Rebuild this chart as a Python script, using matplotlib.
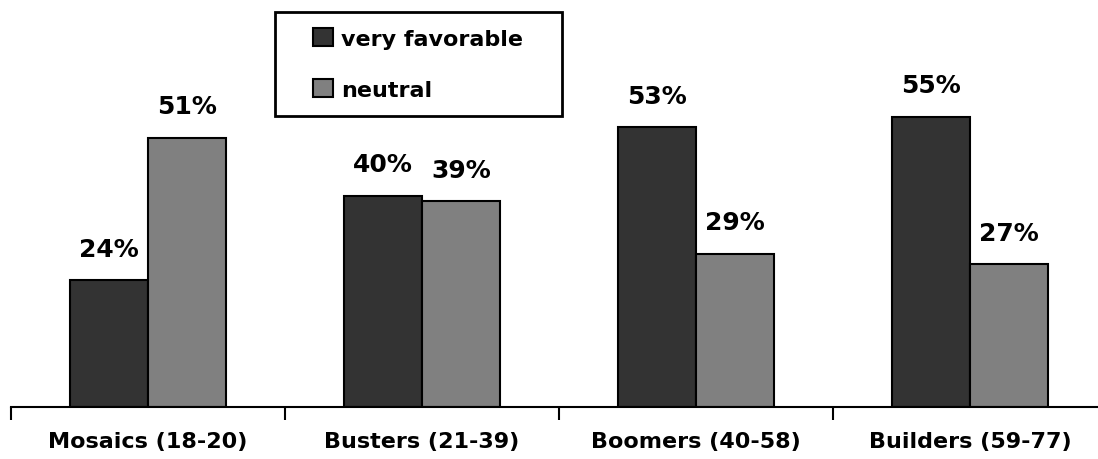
import matplotlib
matplotlib.use("Agg")
import matplotlib.pyplot as plt
import numpy as np
from matplotlib.patches import Patch, Rectangle

categories = ["Mosaics (18-20)", "Busters (21-39)", "Boomers (40-58)", "Builders (59-77)"]
series_names = ["very favorable", "neutral"]
very_favorable = [24, 40, 53, 55]
neutral = [51, 39, 29, 27]
colors = ["#333333", "#808080"]

plt.rcParams['font.family'] = ['DejaVu Sans']
W, H = 1098, 460
fig = plt.figure(figsize=(W / 100, H / 100), dpi=100)
left = 11 / W
width = 4 * 274 / W
bottom = (H - 408) / H
ax = fig.add_axes([left, bottom, width, 1 - bottom])

x = np.arange(len(categories))
bw = 78 / 274
for i, (vals, c) in enumerate(zip([very_favorable, neutral], colors)):
    pos = x + (i - 0.5) * bw
    ax.bar(pos, vals, width=bw, color=c, edgecolor="black", linewidth=1.5, zorder=2)
    for p, v in zip(pos, vals):
        ax.annotate(f"{v}%", (p, v), xytext=(0, 14), textcoords="offset points",
                    ha="center", va="bottom", fontsize=18, fontweight="bold")

ax.set_xlim(-0.5, len(categories) - 0.5)
ax.set_ylim(0, 408 / 5.28)
for s in ["left", "right", "top"]:
    ax.spines[s].set_visible(False)
ax.spines["bottom"].set_linewidth(1.5)
ax.set_yticks([])
ax.set_xticks(np.arange(len(categories) + 1) - 0.5)
ax.set_xticklabels([])
ax.tick_params(axis="x", length=9, width=1.5, direction="out")
for xi, cat in zip(x, categories):
    ax.text(xi, -34 * 77.27 / 408, cat, ha="center", va="center", fontsize=16, fontweight="bold",
            clip_on=False)

handles = [Patch(facecolor=c, edgecolor="black", linewidth=1.5) for c in colors]
leg = fig.legend(handles, series_names, loc="upper left",
                 bbox_to_anchor=(313 / W, 1 - 29 / H), frameon=False,
                 prop={"size": 16, "weight": "bold"},
                 handlelength=0.9, handleheight=0.9, handletextpad=0.35,
                 labelspacing=1.35, borderpad=0, borderaxespad=0)
fig.patches.append(Rectangle((275 / W, 1 - 117 / H), (562 - 275) / W, (117 - 13) / H,
                             transform=fig.transFigure, fill=False, edgecolor="black",
                             linewidth=2))

fig.savefig("out.png", dpi=100)
